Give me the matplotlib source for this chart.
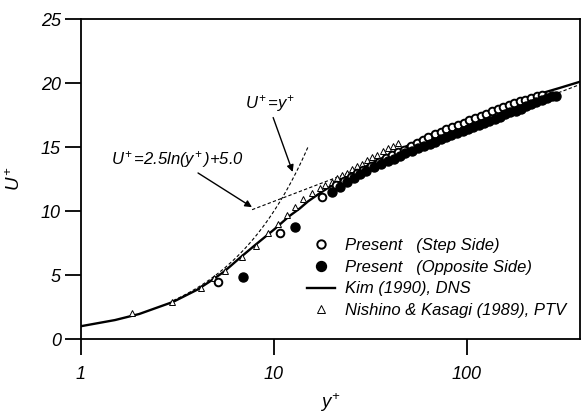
import numpy as np
import matplotlib
matplotlib.use("Agg")
import matplotlib.pyplot as plt
from matplotlib.ticker import FixedLocator, NullLocator, FixedFormatter

plt.rcParams['font.family'] = ['Liberation Sans', 'DejaVu Sans']
plt.rcParams['font.style'] = 'italic'
plt.rcParams['mathtext.fontset'] = 'custom'
plt.rcParams['mathtext.rm'] = 'Liberation Sans:italic'
plt.rcParams['mathtext.it'] = 'Liberation Sans:italic'
plt.rcParams['mathtext.sf'] = 'Liberation Sans:italic'

# ---- data ----
# Kim (1990) DNS
kim_y = [1, 1.5, 2, 3, 4, 4.66, 5.5, 6.67, 8, 9.2, 10, 12, 13.6, 15, 17.5, 20, 23.8, 27, 30, 35, 40,
         50, 60, 70, 85, 100, 120, 150, 200, 250, 300, 385]
kim_u = [1.0, 1.48, 1.95, 2.9, 3.85, 4.5, 5.25, 6.35, 7.35, 8.1, 8.55, 9.6, 10.2, 10.75, 11.45, 12.0, 12.7, 13.15, 13.5, 14.0, 14.45,
         15.15, 15.75, 16.2, 16.7, 17.15, 17.6, 18.15, 18.8, 19.25, 19.6, 20.1]

# Nishino & Kasagi (1989), PTV
nk_y = [1.84, 2.96, 4.18, 4.9, 5.6, 6.8, 8.1, 9.3, 10.5, 11.7, 12.8, 14.1, 15.7, 17.3, 18.4,
        19.9, 21.1, 22.4, 23.9, 25.4, 27.0, 28.6, 30.4, 32.3, 34.3, 36.5, 38.8, 41.2, 43.8]
nk_u = [2.03, 2.9, 4.0, 4.8, 5.3, 6.4, 7.3, 8.3, 9.0, 9.7, 10.3, 10.9, 11.4, 11.8, 12.0,
        12.3, 12.6, 12.8, 13.0, 13.3, 13.5, 13.7, 14.0, 14.2, 14.4, 14.7, 14.9, 15.1, 15.3]

# Present (Step Side)
step_y = [5.1, 10.7, 17.7, 21, 23, 25, 27, 29, 32, 35, 38, 41, 44, 47, 51, 55, 59, 63, 68, 73, 78,
          84, 90, 96, 103, 110, 118, 126, 135, 144, 154, 165, 176, 188, 200, 215, 230, 245]
step_u = [4.45, 8.3, 11.1, 12.0, 12.35, 12.65, 12.95, 13.2, 13.55, 13.85, 14.15, 14.4, 14.6, 14.8, 15.05, 15.3, 15.55, 15.8, 16.0, 16.2, 16.4,
          16.6, 16.75, 16.9, 17.1, 17.25, 17.45, 17.6, 17.8, 17.95, 18.1, 18.3, 18.45, 18.6, 18.7, 18.85, 18.95, 19.1]

# Present (Opposite Side)
opp_y = [6.9, 12.8, 20, 22, 24, 26, 28, 30, 33, 36, 39, 42, 45, 48, 52, 56, 60, 64, 68, 73, 78, 83, 89, 95,
         101, 108, 115, 122, 130, 139, 148, 158, 168, 179, 190, 202, 215, 229, 244, 260, 277, 290]
opp_u = [4.85, 8.75, 11.5, 11.9, 12.3, 12.6, 12.9, 13.1, 13.45, 13.7, 13.9, 14.1, 14.3, 14.5, 14.7, 14.9, 15.1, 15.25, 15.4, 15.6, 15.75, 15.9, 16.1, 16.25,
         16.4, 16.55, 16.7, 16.85, 17.0, 17.2, 17.35, 17.55, 17.7, 17.85, 18.0, 18.2, 18.35, 18.5, 18.65, 18.8, 18.95, 19.0]

# theoretical laws: range of y+ drawn
visc_range = [3, 15]
log_range = [7.7, 400]

xticks = [1, 10, 100]
xticklabels = ['1', '10', '100']
yticks = [0, 5, 10, 15, 20, 25]

W, H = 582, 418
fig = plt.figure(figsize=(W / 100, H / 100), dpi=100)
ax = fig.add_axes([81 / W, 1 - 339 / H, (580 - 81) / W, 320 / H])

ax.set_xscale('log')
ax.set_xlim(1, 385)
ax.set_ylim(0, 25)

# theoretical lines
vy = np.geomspace(visc_range[0], visc_range[1], 50)
ax.plot(vy, vy, color='k', lw=0.8, ls=(0, (3, 2)))
ly = np.geomspace(log_range[0], log_range[1], 100)
ax.plot(ly, 2.5 * np.log(ly) + 5.0, color='k', lw=0.8, ls=(0, (3, 2)))

ax.plot(kim_y, kim_u, color='k', lw=1.7, label='Kim (1990), DNS', zorder=3)
ax.plot(nk_y, nk_u, ls='none', marker='^', ms=5, mfc='white', mec='k', mew=0.7,
        label='Nishino & Kasagi (1989), PTV', zorder=4)
ax.plot(step_y, step_u, ls='none', marker='o', ms=5.5, mfc='white', mec='k', mew=1.4,
        label='Present   (Step Side)', zorder=5)
ax.plot(opp_y, opp_u, ls='none', marker='o', ms=6.5, mfc='k', mec='k',
        label='Present   (Opposite Side)', zorder=5)

# ticks
ax.xaxis.set_major_locator(FixedLocator(xticks))
ax.xaxis.set_major_formatter(FixedFormatter(xticklabels))
ax.xaxis.set_minor_locator(NullLocator())
ax.set_yticks(yticks)
ax.tick_params(axis='both', direction='out', length=11.5, width=1.3, labelsize=13)
ax.tick_params(axis='y', pad=3)
ax.tick_params(axis='x', pad=8)
for s in ax.spines.values():
    s.set_linewidth(1.3)

ax.set_xlabel(r'$y^{\!+}$', fontsize=13.5, labelpad=6)
ax.set_ylabel(r'$U^{\!+}$', fontsize=13.5, labelpad=12)

# annotations
ax.text(9.5, 18.4, r'$U^{\!+}$=$y^{\!+}$', fontsize=12, ha='center', va='center')
ax.annotate('', xy=(12.5, 13.05), xytext=(9.9, 17.3),
            arrowprops=dict(arrowstyle='-|>', color='k', lw=1.0, mutation_scale=10, shrinkA=0, shrinkB=0))
ax.text(3.14, 14.0, r'$U^{\!+}$=2.5ln($y^{\!+}$)+5.0', fontsize=12, ha='center', va='center')
ax.annotate('', xy=(7.69, 10.3), xytext=(4.04, 12.97),
            arrowprops=dict(arrowstyle='-|>', color='k', lw=1.0, mutation_scale=10, shrinkA=0, shrinkB=0))

# legend
h, l = ax.get_legend_handles_labels()
order = [2, 3, 0, 1]
leg = fig.legend([h[i] for i in order], [l[i] for i in order],
                 loc='upper left', bbox_to_anchor=(307 / W, 1 - 238 / H),
                 frameon=False, fontsize=12, handlelength=1.7, handletextpad=0.6,
                 labelspacing=0.4, borderpad=0, borderaxespad=0, markerscale=1.1)

fig.savefig('out.png', dpi=100)
